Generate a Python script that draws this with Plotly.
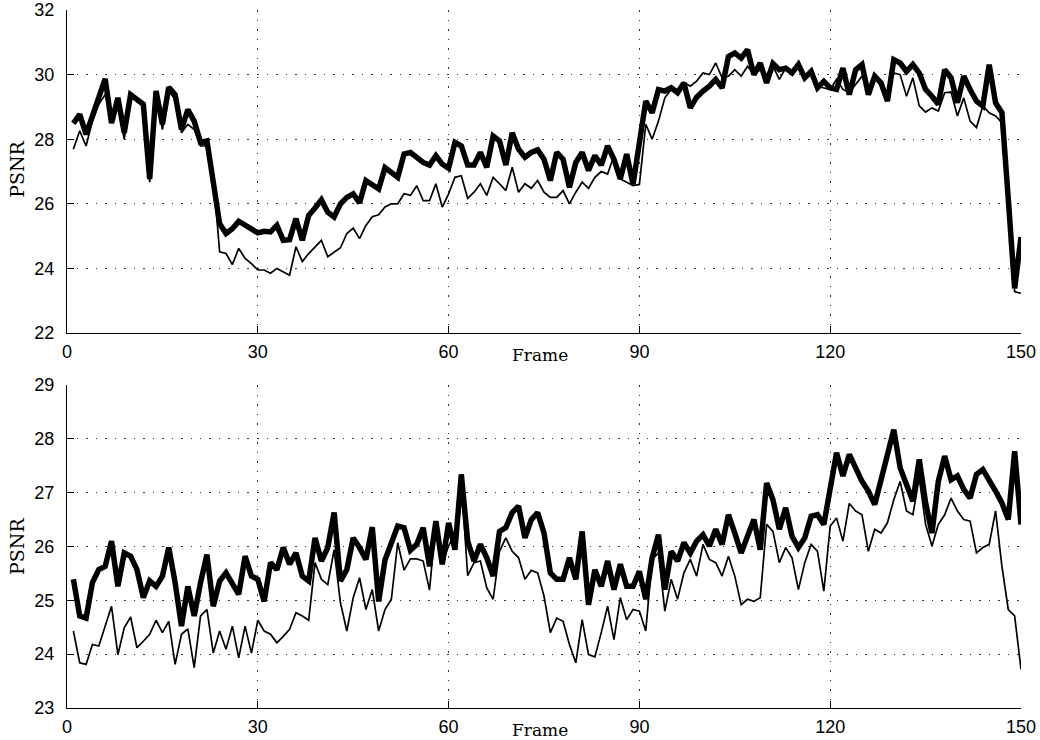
import plotly.graph_objects as go
from plotly.subplots import make_subplots

frames = list(range(1, 151))

top_thick = [28.49, 28.77, 28.15, 28.7, 29.33, 29.87, 28.5, 29.28, 28.2, 29.38,
             29.23, 29.08, 26.77, 29.49, 28.46, 29.61, 29.38, 28.3, 28.92, 28.56,
             27.9, 27.95, 26.67, 25.38, 25.08, 25.23, 25.46, 25.35, 25.23, 25.1,
             25.15, 25.13, 25.33, 24.87, 24.89, 25.54, 24.87, 25.64, 25.87, 26.12,
             25.74, 25.59, 26.0, 26.2, 26.31, 26.03, 26.72, 26.58, 26.46, 27.12,
             26.98, 26.82, 27.54, 27.59, 27.44, 27.28, 27.2, 27.49, 27.23, 27.1,
             27.9, 27.79, 27.2, 27.2, 27.59, 27.13, 28.1, 27.95, 27.2, 28.2,
             27.69, 27.44, 27.59, 27.67, 27.38, 26.72, 27.59, 27.38, 26.51, 27.28,
             27.59, 27.03, 27.49, 27.2, 27.79, 27.38, 26.77, 27.54, 26.6, 27.9,
             29.18, 28.82, 29.54, 29.49, 29.59, 29.44, 29.74, 28.97, 29.3, 29.49,
             29.64, 29.85, 29.59, 30.56, 30.67, 30.51, 30.77, 30.0, 30.36, 29.74,
             30.34, 30.15, 30.2, 30.05, 30.31, 29.9, 30.1, 29.59, 29.79, 29.59,
             29.54, 30.2, 29.38, 30.15, 30.31, 29.38, 29.95, 29.74, 29.18, 30.46,
             30.36, 30.1, 30.31, 30.05, 29.54, 29.33, 29.08, 30.15, 29.9, 29.13,
             29.95, 29.54, 29.18, 29.03, 30.31, 29.13, 28.82, 26.15, 23.38, 24.97]

top_thin = [27.69, 28.26, 27.79, 28.56, 29.08, 29.38, 28.62, 29.03, 28.0, 29.38,
            29.23, 29.08, 26.67, 29.44, 28.3, 29.49, 29.23, 28.2, 28.46, 28.3,
            27.79, 27.79, 26.87, 24.51, 24.46, 24.12, 24.62, 24.31, 24.15, 23.95,
            23.95, 23.85, 24.0, 23.9, 23.79, 24.67, 24.21, 24.46, 24.67, 24.87,
            24.36, 24.51, 24.64, 25.08, 25.25, 24.92, 25.33, 25.6, 25.66, 25.9,
            26.0, 26.0, 26.31, 26.26, 26.56, 26.1, 26.1, 26.62, 25.9, 26.31,
            26.82, 26.87, 26.17, 26.36, 26.62, 26.26, 26.82, 26.62, 26.41, 27.13,
            26.36, 26.62, 26.48, 26.72, 26.36, 26.2, 26.2, 26.41, 26.0, 26.36,
            26.67, 26.48, 26.82, 27.0, 26.92, 27.49, 26.77, 26.67, 26.56, 26.6,
            28.46, 28.0, 28.56, 29.28, 29.54, 29.54, 29.76, 29.64, 29.8, 30.05,
            30.0, 30.36, 29.9, 29.95, 30.15, 29.95, 30.26, 30.0, 30.15, 30.0,
            30.26, 29.85, 30.2, 30.05, 30.26, 29.95, 30.05, 29.64, 29.59, 29.54,
            29.85, 29.54, 29.44, 29.69, 29.95, 29.54, 29.9, 29.64, 29.38, 30.05,
            30.0, 29.33, 29.9, 29.03, 28.84, 28.97, 28.87, 29.44, 29.46, 28.72,
            29.28, 28.56, 28.36, 29.03, 28.82, 28.72, 28.51, 26.26, 23.28, 23.23]

bot_thick = [25.39, 24.71, 24.67, 25.33, 25.57, 25.63, 26.1, 25.26, 25.88, 25.82,
             25.57, 25.05, 25.36, 25.26, 25.45, 25.98, 25.33, 24.52, 25.26, 24.71,
             25.33, 25.85, 24.89, 25.36, 25.51, 25.33, 25.11, 25.82, 25.45, 25.39,
             24.98, 25.7, 25.57, 25.98, 25.67, 25.88, 25.45, 25.36, 26.16, 25.73,
             25.98, 26.63, 25.36, 25.57, 26.16, 25.98, 25.76, 26.36, 24.98, 25.75,
             26.05, 26.38, 26.35, 25.93, 26.04, 26.35, 25.63, 26.47, 25.67, 26.44,
             25.94, 27.34, 26.1, 25.73, 26.04, 25.79, 25.45, 26.28, 26.35, 26.63,
             26.75, 26.16, 26.5, 26.63, 26.25, 25.51, 25.39, 25.39, 25.79, 25.39,
             26.28, 24.92, 25.57, 25.26, 25.73, 25.2, 25.67, 25.26, 25.26, 25.54,
             25.02, 25.79, 26.22, 25.2, 25.91, 25.73, 26.07, 25.88, 26.1, 26.22,
             26.01, 26.32, 26.04, 26.59, 26.25, 25.88, 26.19, 26.5, 25.94, 27.18,
             26.87, 26.32, 26.72, 26.19, 25.98, 26.16, 26.56, 26.59, 26.41, 27.06,
             27.74, 27.31, 27.71, 27.46, 27.21, 27.03, 26.78, 27.24, 27.68, 28.17,
             27.46, 27.12, 26.84, 27.62, 26.81, 26.25, 27.21, 27.68, 27.24, 27.31,
             27.06, 26.9, 27.34, 27.43, 27.24, 27.03, 26.81, 26.5, 27.77, 26.41]

bot_thin = [24.43, 23.84, 23.81, 24.18, 24.15, 24.52, 24.89, 23.99, 24.49, 24.69,
            24.12, 24.24, 24.37, 24.63, 24.4, 24.61, 23.81, 24.37, 24.47, 23.75,
            24.71, 24.83, 24.02, 24.43, 24.09, 24.52, 23.93, 24.52, 24.02, 24.63,
            24.43, 24.37, 24.21, 24.33, 24.46, 24.77, 24.71, 24.63, 25.7, 25.39,
            25.29, 25.94, 24.95, 24.43, 25.05, 25.42, 24.83, 25.2, 24.43, 24.83,
            25.02, 26.07, 25.56, 25.77, 25.77, 25.73, 25.19, 26.47, 25.67, 26.01,
            26.25, 27.24, 25.46, 25.7, 25.73, 25.23, 25.02, 25.91, 26.16, 25.91,
            25.79, 25.39, 25.56, 25.51, 25.08, 24.4, 24.67, 24.61, 24.18, 23.84,
            24.64, 23.99, 23.95, 24.4, 24.89, 24.27, 25.05, 24.64, 24.83, 24.8,
            24.43, 25.76, 25.88, 24.8, 25.39, 25.02, 25.51, 25.76, 25.45, 26.04,
            25.76, 25.7, 25.45, 25.82, 25.45, 24.92, 25.02, 24.98, 25.05, 26.41,
            26.28, 25.7, 25.98, 25.79, 25.2, 25.7, 26.04, 25.91, 25.17, 26.38,
            26.53, 26.1, 26.8, 26.66, 26.59, 25.91, 26.32, 26.25, 26.44, 26.87,
            27.21, 26.66, 26.59, 27.28, 26.41, 26.01, 26.41, 26.59, 26.9, 26.66,
            26.5, 26.47, 25.88, 25.98, 26.04, 26.66, 25.63, 24.83, 24.71, 23.72]

x_ticks = [0, 30, 60, 90, 120, 150]
top_y_ticks = [22, 24, 26, 28, 30, 32]
bot_y_ticks = [23, 24, 25, 26, 27, 28, 29]

fig = make_subplots(rows=2, cols=1, vertical_spacing=0.0745)

for row, thin, thick in [(1, top_thin, top_thick), (2, bot_thin, bot_thick)]:
    fig.add_trace(go.Scatter(x=frames, y=thin, mode="lines",
                             line=dict(color="black", width=1.7),
                             showlegend=False), row=row, col=1)
    fig.add_trace(go.Scatter(x=frames, y=thick, mode="lines",
                             line=dict(color="black", width=5.5),
                             showlegend=False), row=row, col=1)

tickfont = dict(family="Liberation Sans, Arial, sans-serif", size=18, color="black")
grid = dict(showgrid=True, griddash="1.5px,8px", gridcolor="#333333", gridwidth=1)
common_x = dict(range=[0, 150], tickvals=x_ticks, showline=True, linecolor="black",
                linewidth=1.2, ticks="inside", ticklen=7, tickcolor="black",
                tickfont=tickfont, zeroline=False, automargin=False,
                ticklabelstandoff=2, **grid)
common_y = dict(showline=True, linecolor="black", linewidth=1.2, ticks="inside",
                ticklen=7, tickcolor="black", tickfont=tickfont, zeroline=False,
                automargin=False, ticklabelstandoff=8, **grid)

fig.update_xaxes(**common_x, row=1, col=1)
fig.update_xaxes(**common_x, row=2, col=1)
fig.update_yaxes(**common_y, range=[22, 32], tickvals=top_y_ticks, row=1, col=1)
fig.update_yaxes(**common_y, range=[23, 29], tickvals=bot_y_ticks, row=2, col=1)

serif = dict(family="DejaVu Serif, Liberation Serif, serif", size=17, color="black")
psnr_font = dict(family="DejaVu Serif, Liberation Serif, serif", size=19, color="black")
fig.add_annotation(text="Frame", xref="paper", yref="paper", x=0.496, y=0.5057,
                   yanchor="middle", showarrow=False, font=serif)
fig.add_annotation(text="Frame", xref="paper", yref="paper", x=0.496, y=-0.0315,
                   yanchor="middle", showarrow=False, font=serif)
fig.add_annotation(text="PSNR", xref="paper", yref="paper", x=-0.0524,
                   xanchor="center", y=0.771, yanchor="middle", textangle=-90,
                   showarrow=False, font=psnr_font)
fig.add_annotation(text="PSNR", xref="paper", yref="paper", x=-0.0524,
                   xanchor="center", y=0.2307, yanchor="middle", textangle=-90,
                   showarrow=False, font=psnr_font)

fig.update_layout(width=1040, height=740, plot_bgcolor="white", paper_bgcolor="white",
                  margin=dict(l=67, r=19, t=10, b=32))

fig.write_html("out.html", config={"displayModeBar": False},
               post_script="document.body.style.margin='0';"
                           "document.body.style.overflow='hidden';")
